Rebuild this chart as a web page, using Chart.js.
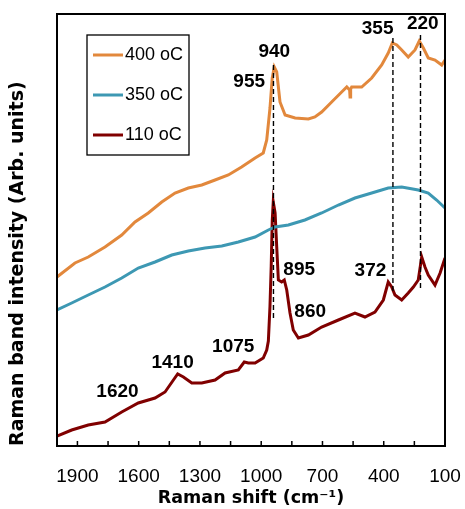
<!DOCTYPE html>
<html>
<head>
<meta charset="utf-8">
<script src="https://cdn.jsdelivr.net/npm/chart.js@4.4.1/dist/chart.umd.min.js"></script>
<style>
  html, body { margin: 0; padding: 0; background: #fff; }
  canvas { display: block; }
</style>
</head>
<body>
<canvas id="chart" width="465" height="509"></canvas>
<script>
// Raman spectra, values (y in arbitrary units)
const shift400 = [2000, 1912, 1847, 1765, 1683, 1618, 1553, 1487, 1422, 1357, 1291, 1226, 1161, 1096, 1030, 990, 973, 957, 946, 936, 924, 908, 883, 834, 769, 737, 704, 655, 606, 581, 567, 565, 562, 557, 508, 459, 410, 378, 358, 336, 312, 280, 247, 226, 206, 182, 149, 116, 100];
const int400 = [169, 183, 189, 199, 211, 224, 233, 244, 253, 258, 261, 266, 271, 279, 288, 293, 306, 338, 368, 379, 374, 344, 331, 328, 327, 329, 334, 344, 354, 359, 356, 349, 357, 359, 359, 368, 381, 393, 403, 401, 396, 389, 396, 405, 398, 388, 386, 381, 386];

const shift350 = [2000, 1928, 1847, 1765, 1683, 1602, 1520, 1438, 1357, 1275, 1193, 1112, 1030, 965, 932, 867, 786, 704, 622, 541, 459, 378, 312, 231, 182, 141, 100];
const int350 = [136, 143, 151, 159, 168, 178, 184, 191, 195, 198, 200, 204, 209, 216, 219, 221, 226, 233, 241, 248, 253, 258, 259, 256, 253, 246, 238];

const shift110 = [2000, 1928, 1847, 1765, 1683, 1602, 1520, 1471, 1430, 1409, 1381, 1340, 1291, 1226, 1177, 1112, 1083, 1063, 1030, 990, 973, 965, 957, 951, 946, 941, 932, 924, 916, 900, 887, 875, 859, 843, 818, 769, 704, 622, 541, 492, 443, 402, 378, 361, 345, 312, 280, 255, 231, 214, 198, 182, 149, 124, 100];
const int110 = [10, 16, 21, 24, 34, 43, 48, 54, 66, 72, 69, 63, 63, 66, 73, 76, 84, 83, 83, 88, 96, 105, 140, 180, 225, 244, 233, 199, 166, 164, 166, 156, 133, 116, 108, 111, 119, 126, 133, 129, 134, 146, 164, 159, 151, 146, 153, 159, 166, 189, 179, 171, 161, 173, 188];

const seriesLabels = ['400 oC', '350 oC', '110 oC'];
const seriesColors = ['#E2883C', '#3D98B3', '#800000'];

// dashed guide lines
const guideShift = [940, 355, 220];
const guideTop = [381, 408, 411];
const guideBottom = [126, 153, 156];

// peak annotations
const peakNames = ['940', '955', '355', '220', '895', '860', '372', '1075', '1410', '1620'];
const peakX = [936, 1059, 430, 209, 814, 760, 465, 1137, 1434, 1704];
const peakY = [394, 364, 417, 422, 176, 134, 175, 99, 83, 54];

const xTicks = [1900, 1750, 1600, 1450, 1300, 1150, 1000, 850, 700, 550, 400, 250, 100];
const xTickLabels = [1900, 1600, 1300, 1000, 700, 400, 100];

const toPts = (xs, ys) => xs.map((v, i) => ({ x: v, y: ys[i] }));

const datasets = [
    { label: seriesLabels[0], data: toPts(shift400, int400), borderColor: seriesColors[0] },
    { label: seriesLabels[1], data: toPts(shift350, int350), borderColor: seriesColors[1] },
    { label: seriesLabels[2], data: toPts(shift110, int110), borderColor: seriesColors[2] },
].map(d => ({ ...d, borderWidth: 3, pointRadius: 0, tension: 0, order: 1 }));

guideShift.forEach((g, i) => {
    datasets.push({
        label: '', data: [{ x: g, y: guideTop[i] }, { x: g, y: guideBottom[i] }],
        borderColor: '#000', borderWidth: 1.4, borderDash: [5, 3], pointRadius: 0, order: 0
    });
});

const extras = {
    id: 'extras',
    afterDatasetsDraw(chart) {
        const { ctx, chartArea: a, scales: { x, y } } = chart;
        ctx.save();
        // peak labels
        ctx.fillStyle = '#000';
        ctx.font = 'bold 19px "Liberation Sans", Arial, sans-serif';
        ctx.textAlign = 'center';
        ctx.textBaseline = 'middle';
        peakNames.forEach((t, i) => ctx.fillText(t, x.getPixelForValue(peakX[i]), y.getPixelForValue(peakY[i])));

        // inner tick marks
        ctx.strokeStyle = '#000';
        ctx.lineWidth = 1.5;
        ctx.beginPath();
        x.ticks.forEach(t => {
            const px = x.getPixelForValue(t.value);
            ctx.moveTo(px, a.bottom);
            ctx.lineTo(px, a.bottom - 5);
        });
        ctx.stroke();

        // frame
        ctx.lineWidth = 2;
        ctx.strokeRect(a.left, a.top, a.right - a.left, a.bottom - a.top);

        // legend box
        const lx = a.left + 30, ly = a.top + 21;
        ctx.lineWidth = 1.3;
        ctx.fillStyle = '#fff';
        ctx.fillRect(lx, ly, 102, 120);
        ctx.strokeRect(lx, ly, 102, 120);
        ctx.font = '18px "Liberation Sans", Arial, sans-serif';
        ctx.textAlign = 'left';
        seriesLabels.forEach((lab, i) => {
            const ey = ly + 20 + i * 40;
            ctx.strokeStyle = seriesColors[i];
            ctx.lineWidth = 3;
            ctx.beginPath();
            ctx.moveTo(lx + 6, ey);
            ctx.lineTo(lx + 36, ey);
            ctx.stroke();
            ctx.fillStyle = '#000';
            ctx.fillText(lab, lx + 38, ey);
        });
        ctx.restore();
    }
};

new Chart(document.getElementById('chart'), {
    type: 'line',
    data: { datasets },
    options: {
        responsive: false,
        animation: false,
        layout: { padding: { top: 14, right: 20, bottom: 0, left: 0 } },
        plugins: { legend: { display: false }, tooltip: { enabled: false } },
        scales: {
            x: {
                type: 'linear', reverse: true, min: 100, max: 2000,
                grid: { display: false, drawTicks: false },
                border: { display: false },
                afterBuildTicks: s => { s.ticks = xTicks.map(v => ({ value: v })); },
                afterFit: s => { s.height = 63; s.paddingLeft = 0; s.paddingRight = 0; },
                ticks: {
                    autoSkip: false, maxRotation: 0, padding: 19, color: '#000',
                    font: { family: '"Liberation Sans", Arial, sans-serif', size: 19 },
                    callback: v => xTickLabels.includes(v) ? String(v) : ''
                },
                title: {
                    display: true, text: 'Raman shift (cm\u207B\u00B9)', color: '#000',
                    padding: 0,
                    font: { family: '"DejaVu Sans", sans-serif', size: 17.5, weight: 'bold' }
                }
            },
            y: {
                min: 0, max: 432,
                grid: { display: false },
                border: { display: false },
                ticks: { display: false },
                afterFit: s => { s.width = 57; },
                title: {
                    display: true, text: 'Raman band intensity (Arb. units)', color: '#000',
                    align: 'start', padding: { top: 7, bottom: 0 },
                    font: { family: '"DejaVu Sans", sans-serif', size: 19, weight: 'bold' }
                }
            }
        }
    },
    plugins: [extras]
});
</script>
</body>
</html>
